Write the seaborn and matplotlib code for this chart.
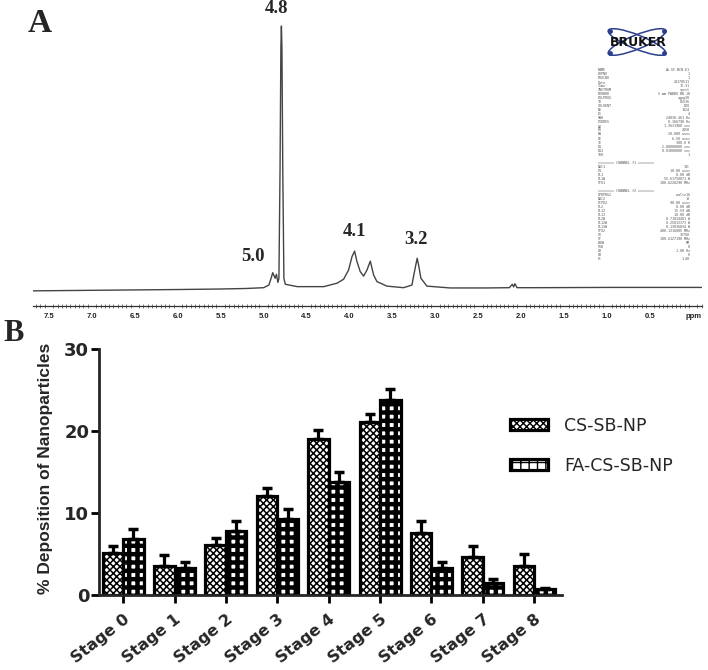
import matplotlib
matplotlib.use('Agg')
import matplotlib.pyplot as plt
import matplotlib.patches as mpatches
from matplotlib.ticker import MultipleLocator
import seaborn as sns
import pandas as pd
import numpy as np

# ---- Panel A: 1H NMR spectrum (ppm, relative intensity)
ppm = [7.69, 7.00, 6.00, 5.50, 5.20, 5.00, 4.94, 4.914, 4.895, 4.867,
       4.852, 4.835, 4.823, 4.810, 4.800, 4.794, 4.788, 4.778, 4.765, 4.748,
       4.610, 4.300, 4.147, 4.070, 4.012, 3.972, 3.942, 3.914, 3.876, 3.837,
       3.798, 3.759, 3.720, 3.681, 3.565, 3.372, 3.274, 3.256, 3.233, 3.213,
       3.193, 3.170, 3.100, 2.830, 2.400, 2.140, 2.105, 2.090, 2.075, 2.050,
       1.800, 1.000, 0.000, -0.100]
intensity = [-0.7, -0.5, -0.2, 0.0, 0.2, 0.5, 1.5, 4.1, 6.2, 4.1,
             5.6, 2.5, 4.0, 45.0, 92.0, 100.0, 92.0, 45.0, 4.0, 1.8,
             0.9, 0.9, 2.2, 3.7, 7.2, 12.3, 14.4, 10.4, 6.6, 4.9,
             7.2, 10.6, 5.3, 2.8, 1.1, 0.5, 1.5, 4.7, 8.5, 11.7,
             8.5, 4.1, 1.1, 0.4, 0.4, 0.5, 1.8, 0.8, 2.0, 0.5,
             0.5, 0.6, 0.6, 0.6]

# acquisition parameter block printed on the spectrum
param_names = ['NAME', 'EXPNO', 'PROCNO', 'Date_', 'Time', 'INSTRUM', 'PROBHD', 'PULPROG',
               'TD', 'SOLVENT', 'NS', 'DS', 'SWH', 'FIDRES', 'AQ', 'RG', 'DW', 'DE', 'TE',
               'D1', 'D11', 'TD0', '', '======== CHANNEL f1 ========', 'NUC1', 'P1', 'PL1',
               'PL1W', 'SFO1', '', '======== CHANNEL f2 ========', 'CPDPRG2', 'NUC2', 'PCPD2',
               'PL2', 'PL12', 'PL13', 'PL2W', 'PL12W', 'PL13W', 'SFO2', 'SI', 'SF', 'WDW',
               'SSB', 'LB', 'GB', 'PC']
param_values = ['AS-SF-NCN-E1', '1', '1', '20170511', '12.31', 'spect', '5 mm PABBO BB-1H',
                'zgpg30', '65536', 'D2O', '1024', '4', '24038.461 Hz', '0.366798 Hz',
                '1.3631988 sec', '2050', '20.800 usec', '6.50 usec', '300.0 K',
                '2.00000000 sec', '0.03000000 sec', '1', '', '', '13C', '10.00 usec',
                '0.00 dB', '55.61750871 W', '100.6228298 MHz', '', '', 'waltz16', '1H',
                '90.00 usec', '0.00 dB', '15.59 dB', '18.00 dB', '8.71834481 W',
                '0.25813373 W', '0.13836034 W', '400.1316005 MHz', '32768',
                '100.6127190 MHz', 'EM', '0', '1.00 Hz', '0', '1.40']

# ---- Panel B: deposition per impactor stage (mean and upper SD)
stages = ['Stage 0', 'Stage 1', 'Stage 2', 'Stage 3', 'Stage 4',
          'Stage 5', 'Stage 6', 'Stage 7', 'Stage 8']
cs_mean = [5.1, 3.5, 6.1, 12.1, 19.0, 21.1, 7.6, 4.6, 3.5]
cs_err = [0.9, 1.4, 0.9, 0.9, 1.1, 1.0, 1.4, 1.4, 1.5]
fa_mean = [6.8, 3.3, 7.8, 9.3, 13.8, 23.8, 3.3, 1.5, 0.7]
fa_err = [1.2, 0.7, 1.2, 1.2, 1.2, 1.3, 0.7, 0.5, 0.2]
groups = ['CS-SB-NP', 'FA-CS-SB-NP']

sns.set_style('white')
plt.rcParams['font.family'] = ['DejaVu Sans']

W, H = 708, 670
fig = plt.figure(figsize=(W / 100, H / 100), dpi=100)

# ================= Panel A =================
axA = fig.add_axes([32.7 / W, 1 - 305.7 / H, 669 / W, 285.7 / H])
sns.lineplot(x=ppm, y=intensity, sort=False, estimator=None,
             color='#444444', linewidth=1.0, ax=axA)
axA.set_xlim(7.69, -0.10)
axA.set_ylim(-6.35, 102.3)
for s in ['top', 'left', 'right']:
    axA.spines[s].set_visible(False)
axA.spines['bottom'].set_linewidth(0.9)
axA.spines['bottom'].set_color('#333333')
axA.set_yticks([])
major = np.arange(0, 7.51, 0.5)
axA.set_xticks(major)
axA.set_xticklabels(['ppm' if v == 0 else f'{v:.1f}' for v in major],
                    fontsize=5.5, fontweight='bold', family='Liberation Sans')
axA.xaxis.set_minor_locator(MultipleLocator(0.05))
axA.tick_params(axis='x', which='major', direction='out', length=3.5, width=0.8,
                pad=1.5, colors='#222222')
axA.tick_params(axis='x', which='minor', direction='inout', length=2.2, width=0.5,
                color='#444444', bottom=True)
axA.set_xlabel('')
axA.set_ylabel('')

peak_font = dict(fontsize=13.5, fontweight='bold', family='Liberation Serif',
                 ha='center', va='center', clip_on=False)
axA.text(4.85, 106.6, '4.8', **peak_font)
axA.text(5.13, 12.2, '5.0', **peak_font)
axA.text(3.945, 21.7, '4.1', **peak_font)
axA.text(3.224, 19.0, '3.2', **peak_font)

fig.text(28 / W, 1 - 24 / H, 'A', fontsize=24, fontweight='bold',
         family='Liberation Serif', ha='left', va='center')

# Bruker logo
logo = fig.add_axes([597 / W, 1 - 58 / H, 83 / W, 32 / H])
logo.set_xlim(0, 83)
logo.set_ylim(0, 32)
logo.axis('off')
for ang in (22, -22):
    logo.add_patch(mpatches.Ellipse((40, 16), 62, 14, angle=ang, fill=False,
                                    edgecolor='#2c3f8f', linewidth=1.1))
    a = np.deg2rad(ang)
    for sgn in (1, -1):
        logo.plot(40 + sgn * 29 * np.cos(a), 16 + sgn * 29 * np.sin(a), 'o',
                  color='#2c3f8f', markersize=2.5)
logo.text(41, 16, 'BRUKER', ha='center', va='center', fontsize=9,
          fontweight='black', family='DejaVu Sans', color='#111111')

fig.text(598 / W, 1 - 68 / H, '\n'.join(param_names), fontsize=2.4,
         family='DejaVu Sans Mono', color='#555555', ha='left', va='top',
         linespacing=1.01)
fig.text(690 / W, 1 - 68 / H, '\n'.join(param_values), fontsize=2.4,
         family='DejaVu Sans Mono', color='#555555', ha='right', va='top',
         linespacing=1.01)

# ================= Panel B =================
df = pd.DataFrame({
    'Stage': stages * 2,
    'Deposition': cs_mean + fa_mean,
    'Formulation': [groups[0]] * len(stages) + [groups[1]] * len(stages),
})
errs = [cs_err, fa_err]
hatches = ['xxxxx', '++']
hatch_lw = [1.1, 3.2]

axB = fig.add_axes([99 / W, 1 - 595 / H, 463 / W, 246 / H])
sns.barplot(data=df, x='Stage', y='Deposition', hue='Formulation',
            palette=['white', 'white'], edgecolor='black', linewidth=2.3,
            errorbar=None, legend=False, ax=axB)

bar_containers = list(axB.containers)
for k, cont in enumerate(bar_containers):
    xs, ys = [], []
    for bar in cont.patches:
        bar.set_hatch(hatches[k])
        if hasattr(bar, 'set_hatch_linewidth'):
            bar.set_hatch_linewidth(hatch_lw[k])
        xs.append(bar.get_x() + bar.get_width() / 2)
        ys.append(bar.get_height())
    axB.errorbar(xs, ys, yerr=[np.zeros(len(ys)), errs[k]], fmt='none',
                 ecolor='black', elinewidth=2.3, capsize=3.8, capthick=2.5, zorder=1)

axB.set_xlim(-0.47, 8.54)
axB.set_ylim(0, 30)
axB.set_yticks([0, 10, 20, 30])
sns.despine(ax=axB)
for s in ['left', 'bottom']:
    axB.spines[s].set_linewidth(2.0)
axB.tick_params(axis='both', which='major', length=6, width=2.0, color='black',
                direction='out', left=True, bottom=True)
axB.tick_params(axis='y', pad=1, labelsize=13)
axB.tick_params(axis='x', pad=6, labelsize=11.5)
for lbl in axB.get_yticklabels():
    lbl.set_fontweight('bold')
axB.set_xticks(range(len(stages)))
axB.set_xticklabels(stages, rotation=38, ha='right', rotation_mode='anchor',
                    fontweight='bold')
axB.set_xlabel('')
axB.set_ylabel('% Deposition of Nanoparticles', fontsize=12.5, fontweight='bold',
               family='Liberation Sans')
axB.yaxis.set_label_coords(-0.10, 0.515)

handles = []
for k in range(2):
    p = mpatches.Patch(facecolor='white', edgecolor='black', linewidth=2.3,
                       hatch=hatches[k], label=groups[k])
    if hasattr(p, 'set_hatch_linewidth'):
        p.set_hatch_linewidth(hatch_lw[k])
    handles.append(p)
fig.legend(handles=handles, loc='upper left', bbox_to_anchor=(510 / W, 1 - 417 / H),
           frameon=False, fontsize=12.5, handlelength=2.2, handleheight=0.6,
           handletextpad=0.9, labelspacing=1.25, borderpad=0, borderaxespad=0)

fig.text(3 / W, 1 - 333 / H, 'B', fontsize=22, fontweight='bold',
         family='Liberation Serif', ha='left', va='center')

fig.savefig('out.png', dpi=100)
